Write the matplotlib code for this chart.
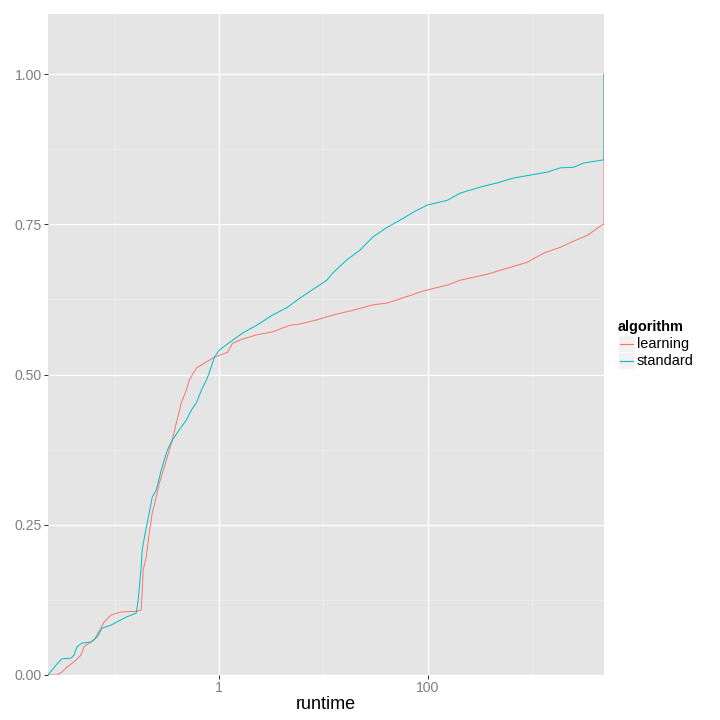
""" ECDF of runtime for learning vs standard algorithm, ggplot-like look """

import matplotlib
matplotlib.use("Agg")
import matplotlib.pyplot as plt
from matplotlib.lines import Line2D
from matplotlib.patches import Rectangle
from matplotlib.ticker import NullFormatter, FixedLocator

learning_runtime = [0.0230, 0.0280, 0.0313, 0.0349, 0.0408, 0.0476, 0.0509, 0.0569,
                    0.0635, 0.0679, 0.0793, 0.0925, 0.1153, 0.1611, 0.1799, 0.1837,
                    0.1879, 0.2009, 0.2148, 0.2296, 0.2506, 0.2679, 0.2992, 0.3199,
                    0.3573, 0.3899, 0.4355, 0.4864, 0.5200, 0.6081, 0.7586, 0.9057,
                    1.208, 1.349, 1.683, 2.296, 3.266, 4.764, 5.943, 8.670, 12.33,
                    19.23, 29.92, 40.83, 54.45, 90.57, 154.2, 205.6, 373.3, 580.8,
                    905.7, 1291, 1879, 2506, 3420, 4266, 4764, 4900, 4900]
learning_ecdf = [0.000, 0.000, 0.005, 0.013, 0.022, 0.033, 0.047, 0.053,
                 0.058, 0.067, 0.088, 0.100, 0.105, 0.106, 0.108, 0.136,
                 0.175, 0.196, 0.236, 0.270, 0.296, 0.319, 0.346, 0.363,
                 0.391, 0.419, 0.453, 0.474, 0.491, 0.511, 0.521, 0.529,
                 0.537, 0.552, 0.559, 0.566, 0.571, 0.582, 0.584, 0.591, 0.599,
                 0.607, 0.616, 0.619, 0.626, 0.639, 0.649, 0.657, 0.667, 0.677,
                 0.687, 0.702, 0.712, 0.722, 0.732, 0.744, 0.750, 0.750, 1.000]

standard_runtime = [0.0230, 0.0262, 0.0292, 0.0313, 0.0382, 0.0408, 0.0436, 0.0486,
                    0.0594, 0.0679, 0.0759, 0.0925, 0.1153, 0.1318, 0.1611, 0.1644,
                    0.1683, 0.1799, 0.1837, 0.1963, 0.2148, 0.2296, 0.2506, 0.2799,
                    0.2992, 0.3199, 0.3573, 0.4169, 0.4864, 0.5445, 0.6081, 0.6792,
                    0.7586, 0.8110, 0.9057, 1.0116, 1.349, 1.683, 2.296, 3.266,
                    4.457, 5.943, 8.670, 10.81, 12.33, 16.83, 22.44, 29.92, 40.83,
                    54.45, 72.61, 98.86, 154.2, 205.6, 319.9, 465.6, 663.7, 968.3,
                    1409, 1879, 2506, 3126, 4764, 4900, 4900]
standard_ecdf = [0.000, 0.012, 0.022, 0.027, 0.028, 0.033, 0.047, 0.053,
                 0.055, 0.063, 0.078, 0.083, 0.092, 0.097, 0.103, 0.113,
                 0.125, 0.180, 0.208, 0.236, 0.270, 0.296, 0.308, 0.341,
                 0.358, 0.374, 0.391, 0.408, 0.424, 0.441, 0.453, 0.474,
                 0.491, 0.504, 0.529, 0.541, 0.557, 0.569, 0.582, 0.599,
                 0.611, 0.627, 0.646, 0.657, 0.669, 0.691, 0.707, 0.729, 0.745,
                 0.757, 0.770, 0.782, 0.790, 0.802, 0.812, 0.819, 0.827, 0.832,
                 0.837, 0.844, 0.845, 0.852, 0.857, 0.857, 1.000]

algorithms = ["learning", "standard"]
colours = ["#F8766D", "#00BFC4"]

plt.rcParams["font.family"] = ["Liberation Sans", "DejaVu Sans"]

W, H = 720, 720
fig = plt.figure(figsize=(W / 72, H / 72), dpi=72)
# panel box in pixels: left 48, right 604, top 14, bottom 675
ax = fig.add_axes([48 / W, (H - 675) / H, (604 - 48) / W, (675 - 14) / H])
ax.set_facecolor("#E5E5E5")
for sp in ax.spines.values():
    sp.set_visible(False)

ax.set_xscale("log")
ax.set_xlim(0.0230, 4900)
ax.set_ylim(0, 1.1)

ax.xaxis.set_major_locator(FixedLocator([1, 100]))
ax.set_xticklabels(["1", "100"])
ax.xaxis.set_minor_locator(FixedLocator([0.1, 10, 1000]))
ax.xaxis.set_minor_formatter(NullFormatter())
ax.set_yticks([0, 0.25, 0.5, 0.75, 1.0])
ax.set_yticklabels(["0.00", "0.25", "0.50", "0.75", "1.00"])
ax.set_yticks([0.125, 0.375, 0.625, 0.875], minor=True)

ax.grid(which="major", color="white", linewidth=1.3)
ax.grid(which="minor", color="#F2F2F2", linewidth=0.6)
ax.set_axisbelow(True)
ax.tick_params(which="major", length=4, width=1, color="#333333",
               labelsize=14, labelcolor="#7F7F7F", pad=2)
ax.tick_params(which="minor", length=0)

ax.plot(learning_runtime, learning_ecdf, color=colours[0], linewidth=1.0)
ax.plot(standard_runtime, standard_ecdf, color=colours[1], linewidth=1.0)

ax.set_xlabel("runtime", fontsize=18, labelpad=1)

# legend, ggplot style
fig.text(618 / W, 1 - 327 / H, "algorithm", fontsize=14.5, fontweight="bold",
         ha="left", va="center")
for i, (name, col) in enumerate(zip(algorithms, colours)):
    yc = 344 + i * 17
    fig.add_artist(Rectangle((618 / W, 1 - (yc + 8.5) / H), 16 / W, 17 / H,
                             transform=fig.transFigure, facecolor="#F2F2F2",
                             edgecolor="white", linewidth=0.6, zorder=1))
    fig.add_artist(Line2D([619.5 / W, 632.5 / W], [1 - yc / H, 1 - yc / H],
                          transform=fig.transFigure, color=col, linewidth=1.2,
                          zorder=3))
    fig.text(637 / W, 1 - yc / H, name, fontsize=14.5, ha="left", va="center")

plt.savefig("out.png", dpi=72)
